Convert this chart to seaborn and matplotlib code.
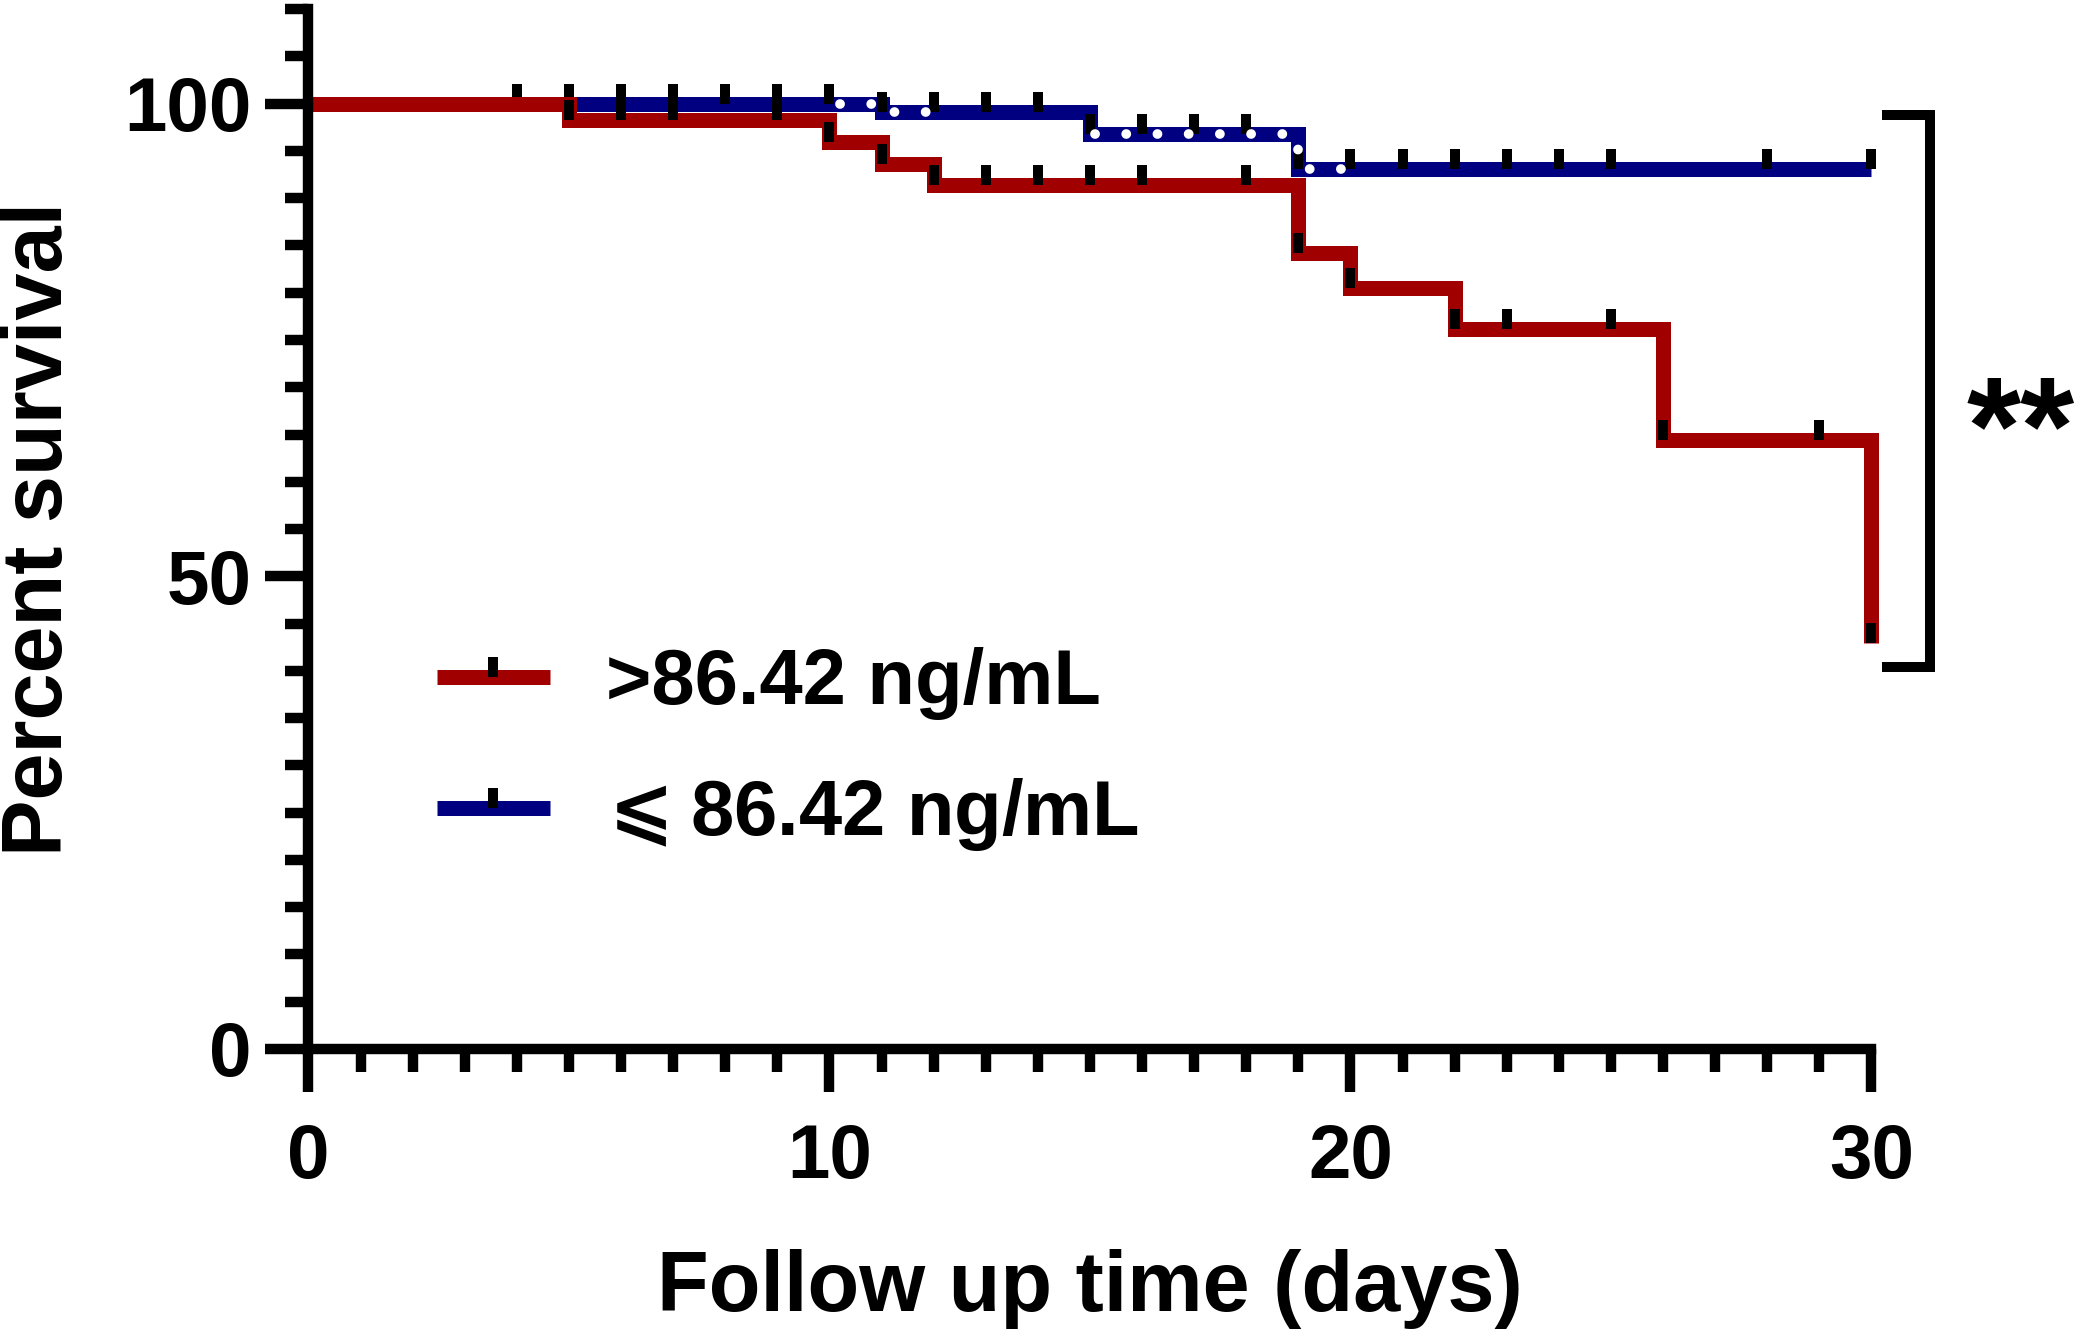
import numpy as np
import matplotlib
matplotlib.use("Agg")
import matplotlib.pyplot as plt
from matplotlib.path import Path
from matplotlib.lines import Line2D
import seaborn as sns

# Kaplan-Meier curves (days, percent survival)
high_label = ">86.42 ng/mL"
high_times = [0, 5, 10, 11, 12, 19, 20, 22, 26, 30]
high_surv = [100, 98.26, 95.98, 93.6, 91.42, 84.25, 80.55, 76.2, 64.4, 42.9]
high_censored = [5, 6, 7, 9, 10, 11, 12, 13, 14, 15, 16, 18, 19, 20, 22, 23, 25, 26, 29, 30]

low_label = r"$\!\leqslant$86.42 ng/mL"
low_times = [0, 11, 15, 19, 30]
low_surv = [100, 99.1, 96.75, 93.1, 93.1]
low_censored = [4, 5, 6, 7, 8, 9, 10, 11, 12, 13, 14, 15, 16, 17, 18, 19, 20,
                21, 22, 23, 24, 25, 28, 30]

# white dotted trace that shows on top of the low group curve
dotted_spans = [(10.2, 12.0), (15.1, 20.1)]

x_ticks = [0, 10, 20, 30]
y_ticks = [0, 50, 100]
significance = "**"

red = "#a00000"
blue = "#000080"
fonts = ["Liberation Sans", "DejaVu Sans"]


def surv_at(times, surv, t):
    idx = np.searchsorted(times, t, side="right") - 1
    return np.asarray(surv, dtype=float)[idx]


sns.set_theme(style="ticks")
plt.rcParams["font.family"] = fonts
plt.rcParams["font.weight"] = "bold"
plt.rcParams["axes.linewidth"] = 7.5
plt.rcParams["text.color"] = "black"
plt.rcParams["axes.labelcolor"] = "black"
plt.rcParams["xtick.color"] = "black"
plt.rcParams["ytick.color"] = "black"
plt.rcParams["mathtext.fontset"] = "dejavusans"

fig = plt.figure(figsize=(20.84, 13.3), dpi=100)
ax = fig.add_axes([0.148, 0.2113, 0.750, 0.7818])

# censor tick: short vertical stroke going up from the curve
tick_mark = Path([(0, 0), (0, 1)], [Path.MOVETO, Path.LINETO])
line_kw = dict(lw=10.8, drawstyle="steps-post", solid_capstyle="butt",
               solid_joinstyle="miter", clip_on=False, legend=False)
mark_kw = dict(marker=tick_mark, s=28.8 ** 2, color="black", edgecolor="black",
               linewidth=7.2, clip_on=False, legend=False)

# low group first, high group is drawn over it
sns.lineplot(x=low_times, y=low_surv, color=blue, zorder=2, ax=ax, **line_kw)
sns.scatterplot(x=low_censored, y=surv_at(low_times, low_surv, low_censored),
                zorder=3, ax=ax, **mark_kw)

for a, b in dotted_spans:
    xs = [a] + [t for t in low_times if a < t < b] + [b]
    ax.plot(xs, surv_at(low_times, low_surv, xs), color="white", lw=7,
            drawstyle="steps-post", linestyle=(0, (0.01, 3.2)),
            dash_capstyle="round", zorder=4, clip_on=False)

sns.lineplot(x=high_times, y=high_surv, color=red, zorder=5, ax=ax, **line_kw)
sns.scatterplot(x=high_censored, y=surv_at(high_times, high_surv, high_censored),
                zorder=6, ax=ax, **mark_kw)

ax.set_xlim(0, 30)
ax.set_ylim(0, 110)
ax.set_xticks(x_ticks)
ax.set_xticks(np.arange(0, 31, 1), minor=True)
ax.set_yticks(y_ticks)
ax.set_yticks(np.arange(0, 111, 5), minor=True)
ax.tick_params(which="major", length=31, width=7.5, labelsize=55, color="black",
               labelcolor="black")
ax.tick_params(which="minor", length=16.6, width=7.5, color="black")
ax.tick_params(axis="x", which="major", pad=22)
ax.tick_params(axis="y", which="major", pad=10)
for side in ["top", "right"]:
    ax.spines[side].set_visible(False)
for side in ["left", "bottom"]:
    ax.spines[side].set_color("black")
    ax.spines[side].set_zorder(10)

ax.set_xlabel("Follow up time (days)", fontsize=61, fontweight="bold", labelpad=40)
ax.set_ylabel("Percent survival", fontsize=61, fontweight="bold", labelpad=32)

# significance bracket on the right
ax.plot([30.2, 31.12, 31.12, 30.2], [98.8, 98.8, 40.4, 40.4], color="black",
        lw=7.2, solid_joinstyle="miter", solid_capstyle="butt", clip_on=False)
ax.text(32.87, 60.9, significance, ha="center", va="baseline", fontsize=100,
        fontweight="bold", clip_on=False)

handles = [
    Line2D([], [], color=red, lw=10.8, solid_capstyle="butt", marker=tick_mark,
           markersize=28.8, markeredgecolor="black", markeredgewidth=7.2),
    Line2D([], [], color=blue, lw=10.8, solid_capstyle="butt", marker=tick_mark,
           markersize=28.8, markeredgecolor="black", markeredgewidth=7.2),
]
ax.legend(handles, [high_label, low_label], loc="center left",
          bbox_to_anchor=(0.0822, 0.2876), frameon=False,
          prop=dict(size=56, weight="bold", family=fonts),
          handlelength=1.45, handletextpad=0.72, labelspacing=0.72,
          borderpad=0, borderaxespad=0)

fig.savefig("out.png", dpi=100, facecolor="white")
